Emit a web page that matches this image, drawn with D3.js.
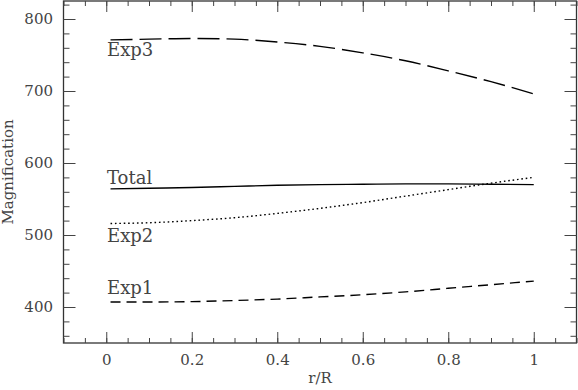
<!DOCTYPE html>
<html>
<head>
<meta charset="utf-8">
<script src="https://cdn.jsdelivr.net/npm/d3@7"></script>
<style>
body { margin: 0; background: #fff; }
svg { display: block; }
.axis text { font-family: "DejaVu Serif", serif; font-size: 15px; fill: #444; }
.axis line { stroke: #444; }
.axis path { display: none; }
</style>
</head>
<body>
<svg width="578" height="390"></svg>
<script>
var width = 578, height = 390;

// r/R sample positions and the magnification
var rVals = [0.01, 0.1, 0.2, 0.3, 0.4, 0.5, 0.6, 0.7, 0.8, 0.9, 1.0];
var exp3 = [771, 772, 773, 772, 768, 762, 753, 742, 728, 713, 696];
var total = [564, 565, 566, 567.5, 569, 570, 570.5, 571, 571, 570.5, 570];
var exp2 = [516, 517, 520, 524, 530, 537, 545, 554, 563, 572, 580];
var exp1 = [407, 407, 407.5, 409, 411, 414, 417, 421, 426, 431, 436];

var seriesNames = ["Exp3", "Total", "Exp2", "Exp1"];
var xMajor = [0, 0.2, 0.4, 0.6, 0.8, 1];
var yMajor = [400, 500, 600, 700, 800];

var x = d3.scaleLinear().domain([-0.1, 1.1]).range([63.5, 576.5]);
var y = d3.scaleLinear().domain([350, 825]).range([343, 1]);

var svg = d3.select("svg");

var xMinor = d3.range(-0.1, 1.1001, 0.05).map(function(d) { return +d.toFixed(2); });
var yMinor = d3.range(360, 825, 20);

// frame
svg.append("rect")
	.attr("x", x.range()[0])
	.attr("y", y.range()[1])
	.attr("width", x.range()[1] - x.range()[0])
	.attr("height", y.range()[0] - y.range()[1])
	.attr("fill", "none")
	.attr("stroke", "#333")
	.attr("stroke-width", 1.3);

function addAxis(axis, tx, ty, showText) {
	var g = svg.append("g")
		.attr("class", "axis")
		.attr("transform", "translate(" + tx + "," + ty + ")")
		.call(axis);
	if (!showText) g.selectAll("text").remove();
	return g;
}

// bottom and top
addAxis(d3.axisBottom(x).tickValues(xMinor).tickSize(-5).tickSizeOuter(0).tickFormat(""), 0, y.range()[0], false);
addAxis(d3.axisBottom(x).tickValues(xMajor).tickSize(-11).tickSizeOuter(0).tickPadding(11).tickFormat(d3.format("")), 0, y.range()[0], true);
addAxis(d3.axisTop(x).tickValues(xMinor).tickSize(-5).tickSizeOuter(0), 0, y.range()[1], false);
addAxis(d3.axisTop(x).tickValues(xMajor).tickSize(-11).tickSizeOuter(0), 0, y.range()[1], false);

// left and right
addAxis(d3.axisLeft(y).tickValues(yMinor).tickSize(-6).tickSizeOuter(0), x.range()[0], 0, false);
addAxis(d3.axisLeft(y).tickValues(yMajor).tickSize(-12).tickSizeOuter(0).tickPadding(10.5).tickFormat(d3.format("")), x.range()[0], 0, true);
addAxis(d3.axisRight(y).tickValues(yMinor).tickSize(-6).tickSizeOuter(0), x.range()[1], 0, false);
addAxis(d3.axisRight(y).tickValues(yMajor).tickSize(-12).tickSizeOuter(0), x.range()[1], 0, false);

// axis titles
svg.append("text")
	.attr("x", (x.range()[0] + x.range()[1]) / 2)
	.attr("y", 383)
	.attr("text-anchor", "middle")
	.attr("font-family", "DejaVu Serif, serif")
	.attr("font-size", 15)
	.attr("fill", "#444")
	.text("r/R");

svg.append("text")
	.attr("transform", "translate(13," + ((y.range()[0] + y.range()[1]) / 2) + ") rotate(-90)")
	.attr("text-anchor", "middle")
	.attr("font-family", "DejaVu Serif, serif")
	.attr("font-size", 15)
	.attr("fill", "#444")
	.text("Magnification");

// curves
var series = [
	{ name: seriesNames[0], values: exp3, dash: "22,7", labelY: 55.5 },
	{ name: seriesNames[1], values: total, dash: null, labelY: 184 },
	{ name: seriesNames[2], values: exp2, dash: "1.6,2.8", labelY: 241.5 },
	{ name: seriesNames[3], values: exp1, dash: "10,6", labelY: 293.5 }
];

var line = d3.line()
	.x(function(d) { return x(d[0]); })
	.y(function(d) { return y(d[1]); })
	.curve(d3.curveMonotoneX);

series.forEach(function(s) {
	var pts = rVals.map(function(r, i) { return [r, s.values[i]]; });
	svg.append("path")
		.datum(pts)
		.attr("d", line)
		.attr("fill", "none")
		.attr("stroke", "#000")
		.attr("stroke-width", 1.4)
		.attr("stroke-dasharray", s.dash);

	svg.append("text")
		.attr("x", 107)
		.attr("y", s.labelY)
		.attr("font-family", "DejaVu Serif, serif")
		.attr("font-size", 18)
		.attr("fill", "#444")
		.text(s.name);
});
</script>
</body>
</html>
